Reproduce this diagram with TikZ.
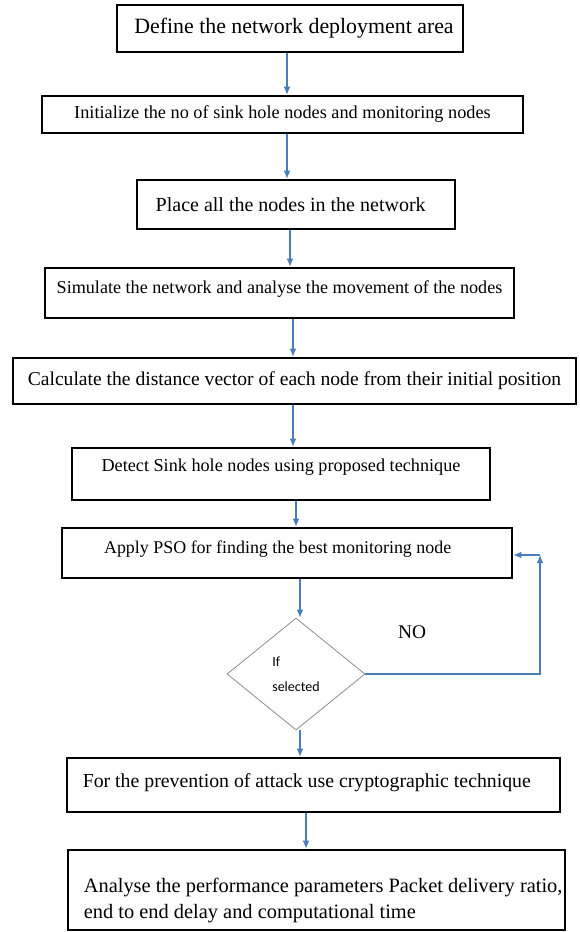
\documentclass[tikz,border=0pt]{standalone}
\usepackage{fontspec}
\setmainfont{Liberation Serif}
\newfontfamily\diafont{Carlito}
\usepackage{tikz}
\usetikzlibrary{shapes.geometric,arrows.meta}
\definecolor{flowblue}{RGB}{74,126,187}
\newcommand{\fsz}[1]{\fontsize{#1}{19.5}\selectfont}
\tikzset{
  procbox/.style={draw=black, line width=1.9pt, rectangle, inner sep=0pt, align=center,
    font=\fsz{14}},
  decision/.style={draw=black!45, line width=0.6pt, diamond, inner sep=0pt, align=left,
    font=\diafont\fontsize{10.5}{13}\selectfont},
  flowarrow/.style={draw=flowblue, line width=0.8pt, -{Latex[length=6pt,width=5pt]}},
}
\begin{document}
\begin{tikzpicture}[x=0.75pt,y=0.75pt,yscale=-1,xscale=1]
\useasboundingbox (0,0) rectangle (579,932);

%Shape: Rectangle [define]
\node[procbox, font=\fsz{16.4}, minimum width=259.5pt, minimum height=35.25pt] (define) at (290,28.5)
  {\hspace{6pt}Define the network deployment area};
%Shape: Rectangle [init]
\node[procbox, font=\fsz{13.7}, minimum width=360.75pt, minimum height=27.75pt] (init) at (282.5,114.5)
  {Initialize  the no of sink hole nodes and monitoring nodes};
%Shape: Rectangle [place]
\node[procbox, font=\fsz{15}, minimum width=238.5pt, minimum height=36.75pt] (place) at (296,204.5)
  {Place all the nodes in the network\hspace{8pt}};
%Shape: Rectangle [simulate]
\node[procbox, font=\fsz{13.6}, minimum width=351.75pt, minimum height=37.5pt] (simulate) at (279.5,293)
  {\raisebox{9pt}{Simulate the network and analyse the movement  of the nodes}};
%Shape: Rectangle [calc]
\node[procbox, font=\fsz{14.7}, minimum width=422.25pt, minimum height=34.5pt] (calc) at (294.5,381)
  {Calculate the distance vector of each node from their initial position};
%Shape: Rectangle [detect]
\node[procbox, font=\fsz{13.65}, minimum width=313.5pt, minimum height=39pt] (detect) at (281,474)
  {\raisebox{13pt}{Detect Sink hole nodes using proposed technique}};
%Shape: Rectangle [apply]
\node[procbox, font=\fsz{13.45}, minimum width=337.5pt, minimum height=37.5pt] (apply) at (287,553)
  {\raisebox{9pt}{Apply PSO for finding the best monitoring  node\hspace{14pt}}};
%Shape: Diamond [select]
\node[decision, minimum width=103.5pt, minimum height=84pt] (select) at (296,674)
  {If\\[6pt]selected};
%Shape: Rectangle [prevent]
\node[procbox, font=\fsz{14.85}, minimum width=369.75pt, minimum height=40.5pt] (prevent) at (313.5,785)
  {\raisebox{6pt}{For the prevention of attack use cryptographic technique\hspace{10pt}}};
%Shape: Rectangle [analyse]
\node[procbox, font=\fsz{15.3}, minimum width=372.75pt, minimum height=60pt] (analyse) at (316.5,890)
  {\hspace*{10pt}\begin{tabular}{@{}l@{}}
     \rule{0pt}{29pt}Analyse the performance parameters Packet delivery ratio,\\
     end to  end delay and computational time
   \end{tabular}};

%Straight Lines [flow]
\foreach \from/\to/\xx in {define/init/287, init/place/287, place/simulate/290,
    simulate/calc/293, calc/detect/293, detect/apply/296, apply/select/300,
    select/prevent/300, prevent/analyse/306}
  \draw[flowarrow] (\from.south -| \xx,0) -- (\to.north -| \xx,0);

%Straight Lines [loop back]
\coordinate (turn) at (select.east -| 540,0);
\coordinate (top) at (540,555);
\draw[flowarrow] (select.east) -- (turn) -- (top);
\draw[flowarrow] (top) -- (apply.east |- top);
\node[font=\fsz{14.5}] (no) at (412,632) {NO};

\end{tikzpicture}
\end{document}
